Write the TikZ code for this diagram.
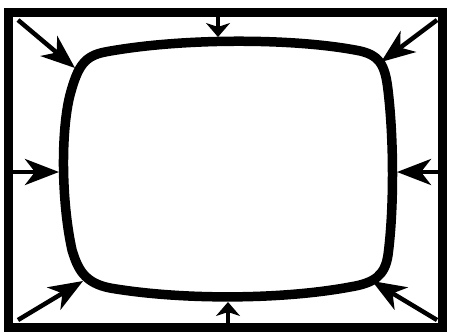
\documentclass[tikz,border=0pt]{standalone}
\usetikzlibrary{arrows.meta}
\begin{document}
\begin{tikzpicture}[x=1pt,y=-1pt,
  frame/.style={line width=9pt},
  barrel/.style={line width=9.5pt, line join=round},
  bigarrow/.style={line width=4.5pt, -{Stealth[length=34pt,width=26pt,inset=10pt]}},
  smallarrow/.style={line width=4.5pt, -{Stealth[length=14pt,width=24pt,inset=4pt]}}]
\useasboundingbox (0,0) rectangle (449,332);
\fill[white] (0,0) rectangle (449,332);
\draw[frame] (8.5,12) rectangle (442,327.5);
\draw[barrel] (105,52) .. controls (180,38) and (290,38) .. (355,50)
  .. controls (380,54) and (385,65) .. (388,90)
  .. controls (394,140) and (394,210) .. (388,255)
  .. controls (385,275) and (375,283) .. (350,287)
  .. controls (280,300) and (180,300) .. (110,288)
  .. controls (85,283) and (78,270) .. (72,250)
  .. controls (61,200) and (61,130) .. (70,95)
  .. controls (78,65) and (85,56) .. (105,52) -- cycle;
% arrow end points
\coordinate (tS) at (218,14);  \coordinate (tE) at (218,37);
\coordinate (bS) at (228,325); \coordinate (bE) at (228,302);
\coordinate (lS) at (9,172);   \coordinate (lE) at (59,172);
\coordinate (rS) at (441,172); \coordinate (rE) at (397,172);
\coordinate (tlS) at (18,20);  \coordinate (tlE) at (75,68);
\coordinate (trS) at (437,20); \coordinate (trE) at (381,62);
\coordinate (blS) at (18,320); \coordinate (blE) at (83,281);
\coordinate (brS) at (437,320);\coordinate (brE) at (372,281);
\draw[smallarrow] (tS) -- (tE);
\draw[smallarrow] (bS) -- (bE);
\draw[bigarrow] (lS) -- (lE);
\draw[bigarrow] (rS) -- (rE);
\draw[bigarrow] (tlS) -- (tlE);
\draw[bigarrow] (trS) -- (trE);
\draw[bigarrow] (blS) -- (blE);
\draw[bigarrow] (brS) -- (brE);
\end{tikzpicture}
\end{document}
